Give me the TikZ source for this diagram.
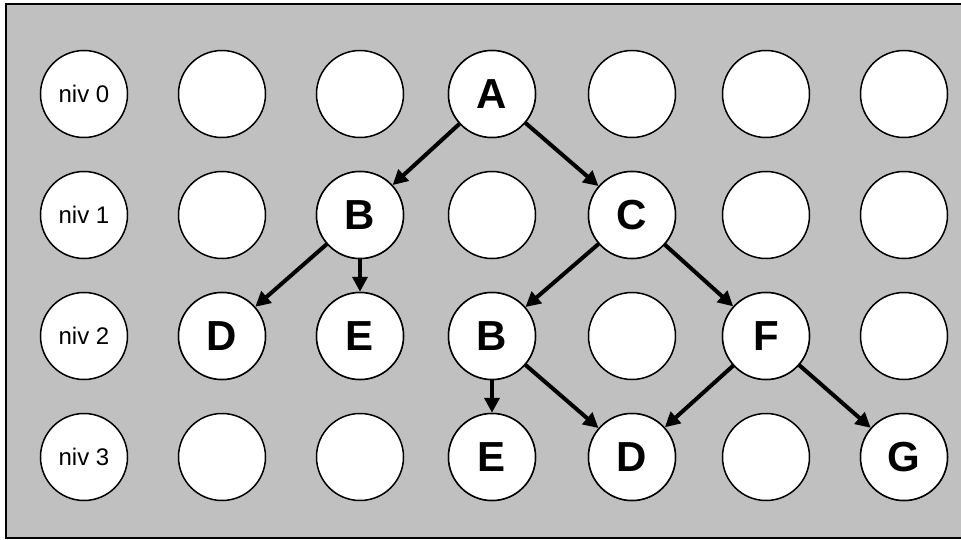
\documentclass[tikz,border=0pt]{standalone}
\usepackage{fontspec}
\setmainfont{Liberation Sans}
\usepackage{xcolor}
\usetikzlibrary{arrows,arrows.meta,positioning}

\definecolor{fond}{HTML}{C0C0C0}

\tikzset{
  cell/.style={circle, draw=black, fill=white, line width=1.5pt, minimum size=87pt, inner sep=0pt},
  niv/.style={font=\fontsize{24}{28}\selectfont},
  lettre/.style={font=\fontsize{42}{48}\selectfont\bfseries},
  fleche/.style={->, line width=4pt}
}

\begin{document}
\begin{tikzpicture}[x=1pt, y=-1pt, >={Triangle[length=15pt,width=15pt]}]

    \useasboundingbox (0,0) rectangle (961,540);
    \filldraw [fill=fond, draw=black, line width=2pt] (6,4) rectangle (966,538);

    % grille des cases vides
    \foreach \y [count=\r from 0] in {94,215,336,457}{
       \foreach \x [count=\c from 0] in {84,222,360,492,632,766,904}{
         \node[cell] (c\r\c) at (\x,\y) {};
       }
    }

    % niveaux
    \foreach \r in {0,1,2,3}{
       \node[niv] (niv\r) at (c\r0) {niv \r};
    }

    % arbre
    \node[cell, lettre] (A)  at (c03) {A};
    \node[cell, lettre] (B1) at (c12) {B};
    \node[cell, lettre] (C1) at (c14) {C};
    \node[cell, lettre] (D2) at (c21) {D};
    \node[cell, lettre] (E2) at (c22) {E};
    \node[cell, lettre] (B2) at (c23) {B};
    \node[cell, lettre] (F2) at (c25) {F};
    \node[cell, lettre] (E3) at (c33) {E};
    \node[cell, lettre] (D3) at (c34) {D};
    \node[cell, lettre] (G3) at (c36) {G};

    \draw [fleche] (A) -- (B1);
    \draw [fleche] (A) -- (C1);
    \draw [fleche] (B1) -- (D2);
    \draw [fleche] (B1) -- (E2);
    \draw [fleche] (C1) -- (B2);
    \draw [fleche] (C1) -- (F2);
    \draw [fleche] (B2) -- (E3);
    \draw [fleche] (B2) -- (D3);
    \draw [fleche] (F2) -- (D3);
    \draw [fleche] (F2) -- (G3);

\end{tikzpicture}
\end{document}
